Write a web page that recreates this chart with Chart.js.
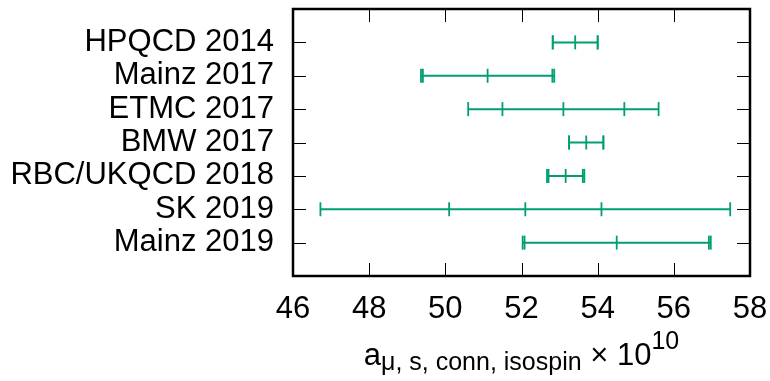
<!DOCTYPE html>
<html>
<head>
<meta charset="utf-8">
<script src="https://cdn.jsdelivr.net/npm/chart.js@4/dist/chart.umd.min.js"></script>
<style>
  html, body { margin: 0; padding: 0; background: #fff; }
  #wrap { width: 770px; height: 381px; position: relative; }
</style>
</head>
<body>
<div id="wrap"><canvas id="errChart"></canvas></div>
<script>
// collaborations, top to bottom
const labels = ["HPQCD 2014", "Mainz 2017", "ETMC 2017", "BMW 2017", "RBC/UKQCD 2018", "SK 2019", "Mainz 2019"];
// central values
const centers = [53.41, 51.11, 53.10, 53.70, 53.16, 52.10, 54.50];
// inner (statistical) and outer (total) half-widths
const innerErr = [0.59, 1.70, 1.60, 0.45, 0.45, 2.00, 2.42];
const outerErr = [0.59, 1.75, 2.50, 0.45, 0.49, 5.38, 2.47];
// x tick values
const xTicks = [46, 48, 50, 52, 54, 56, 58];

const green = "#009e73";
const font = "'Liberation Sans', Arial, sans-serif";

Chart.defaults.color = "#000";
Chart.defaults.font.family = font;

// bar with centre mark and outer caps, plus inner caps per row
const datasets = [];
labels.forEach((name, i) => {
    const y = i + 1;
    datasets.push({
        label: name,
        showLine: true,
        data: [
            { x: centers[i] - outerErr[i], y: y },
            { x: centers[i], y: y },
            { x: centers[i] + outerErr[i], y: y },
        ],
        borderColor: green,
        borderWidth: 2,
        pointStyle: "line",
        rotation: 90,
        pointRadius: 7,
        pointBorderWidth: 1.8,
        pointBorderColor: green,
    });
    datasets.push({
        label: name + " stat",
        showLine: false,
        data: [
            { x: centers[i] - innerErr[i], y: y },
            { x: centers[i] + innerErr[i], y: y },
        ],
        pointStyle: "line",
        rotation: 90,
        pointRadius: 7,
        pointBorderWidth: 1.8,
        pointBorderColor: green,
    });
});

// frame, inward ticks on all sides, and the axis title with sub/superscripts
const framePlugin = {
    id: "frame",
    afterDraw(chart) {
        const { ctx, chartArea: a, scales } = chart;
        const tl = 13;
        ctx.save();
        ctx.strokeStyle = "#000";
        ctx.lineWidth = 1;
        ctx.beginPath();
        xTicks.forEach((v) => {
            const px = Math.round(scales.x.getPixelForValue(v)) + 0.5;
            ctx.moveTo(px, a.bottom); ctx.lineTo(px, a.bottom - tl);
            ctx.moveTo(px, a.top); ctx.lineTo(px, a.top + tl);
        });
        labels.forEach((_, i) => {
            const py = Math.round(scales.y.getPixelForValue(i + 1)) + 0.5;
            ctx.moveTo(a.left, py); ctx.lineTo(a.left + tl, py);
            ctx.moveTo(a.right, py); ctx.lineTo(a.right - tl, py);
        });
        ctx.stroke();
        ctx.lineWidth = 2.5;
        ctx.strokeRect(a.left, a.top, a.right - a.left, a.bottom - a.top);

        // a_{μ, s, conn, isospin} × 10^{10}
        const parts = [
            { t: "a", size: 31, dy: 0 },
            { t: "\u03bc, s, conn, isospin", size: 25, dy: 5 },
            { t: " \u00d7 10", size: 31, dy: 0 },
            { t: "10", size: 25, dy: -16 },
        ];
        let total = 0;
        parts.forEach((p) => {
            ctx.font = p.size + "px " + font;
            p.w = ctx.measureText(p.t).width;
            total += p.w;
        });
        let x = (a.left + a.right) / 2 - total / 2;
        const base = 365;
        ctx.fillStyle = "#000";
        ctx.textBaseline = "alphabetic";
        ctx.textAlign = "left";
        parts.forEach((p) => {
            ctx.font = p.size + "px " + font;
            ctx.fillText(p.t, x, base + p.dy);
            x += p.w;
        });
        ctx.restore();
    },
};

new Chart(document.getElementById("errChart"), {
    type: "scatter",
    data: { datasets },
    options: {
        responsive: true,
        maintainAspectRatio: false,
        animation: false,
        layout: { padding: { left: 0, right: 20, top: 9, bottom: 0 } },
        plugins: {
            legend: { display: false },
            tooltip: { enabled: false },
        },
        scales: {
            x: {
                type: "linear",
                min: 46,
                max: 58,
                afterBuildTicks(scale) { scale.ticks = xTicks.map((v) => ({ value: v })); },
                afterFit(scale) {
                    scale.height = 105;
                    scale.paddingLeft = 0;
                    scale.paddingRight = 0;
                },
                ticks: { font: { size: 31 }, padding: 15, maxRotation: 0, autoSkip: false },
                grid: { display: false, drawTicks: false },
                border: { display: false },
            },
            y: {
                type: "linear",
                min: 0,
                max: 8,
                reverse: true,
                afterBuildTicks(scale) { scale.ticks = labels.map((_, i) => ({ value: i + 1 })); },
                afterFit(scale) {
                    scale.width = 293;
                    scale.paddingTop = 0;
                    scale.paddingBottom = 0;
                },
                ticks: {
                    font: { size: 31 },
                    padding: 19,
                    autoSkip: false,
                    callback: (v) => labels[v - 1] || "",
                },
                grid: { display: false, drawTicks: false },
                border: { display: false },
            },
        },
    },
    plugins: [framePlugin],
});
</script>
</body>
</html>
